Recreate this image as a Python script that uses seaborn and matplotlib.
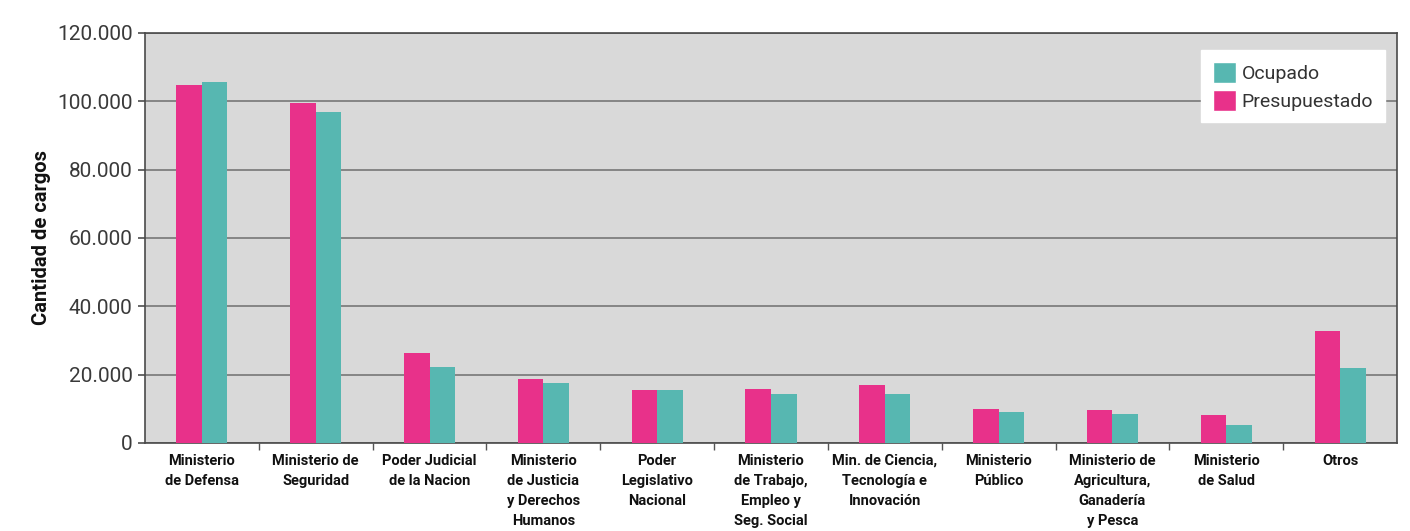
import matplotlib
matplotlib.use("Agg")
import matplotlib.pyplot as plt
import matplotlib.ticker as mticker
from matplotlib.patches import Patch
import pandas as pd
import seaborn as sns

# Data
categorias = [
    "Ministerio\nde Defensa",
    "Ministerio de\nSeguridad",
    "Poder Judicial\nde la Nacion",
    "Ministerio\nde Justicia\ny Derechos\nHumanos",
    "Poder\nLegislativo\nNacional",
    "Ministerio\nde Trabajo,\nEmpleo y\nSeg. Social",
    "Min. de Ciencia,\nTecnología e\nInnovación",
    "Ministerio\nPúblico",
    "Ministerio de\nAgricultura,\nGanadería\ny Pesca",
    "Ministerio\nde Salud",
    "Otros",
]
presupuestado = [104800, 99500, 26300, 18700, 15500, 15800, 17000, 10000, 9700, 8200, 32800]
ocupado = [105500, 96900, 22200, 17600, 15500, 14300, 14300, 9100, 8500, 5300, 22000]

series = ["Presupuestado", "Ocupado"]
colores = {"Presupuestado": "#E8318A", "Ocupado": "#57B7B1"}

df = pd.DataFrame({
    "categoria": categorias * 2,
    "serie": ["Presupuestado"] * len(categorias) + ["Ocupado"] * len(categorias),
    "valor": presupuestado + ocupado,
})

sns.set_theme(style="white")
plt.rcParams["font.family"] = ["Roboto", "DejaVu Sans"]

fig, ax = plt.subplots(figsize=(14.1, 5.31), dpi=100)
fig.subplots_adjust(left=0.1028, right=0.9908, top=0.938, bottom=0.166)

sns.barplot(data=df, x="categoria", y="valor", hue="serie", hue_order=series,
            palette=colores, order=categorias, width=0.45, saturation=1,
            linewidth=0, ax=ax, legend=False, zorder=3)

ax.set_facecolor("#D9D9D9")
ax.set_ylim(0, 120000)
ax.set_xlim(-0.5, len(categorias) - 0.5)
ax.yaxis.set_major_locator(mticker.MultipleLocator(20000))
ax.yaxis.set_major_formatter(mticker.FuncFormatter(lambda v, p: f"{int(v):,}".replace(",", ".")))
ax.grid(axis="y", color="#6E6E6E", linewidth=1.1, zorder=1)
ax.set_axisbelow(True)

for s in ax.spines.values():
    s.set_color("#4A4A4A")
    s.set_linewidth(1.2)

ax.tick_params(axis="y", labelsize=15, labelcolor="#3A3A3A", left=True,
               length=5, color="#555555", pad=4)
ax.set_xticks(range(len(categorias)))
ax.set_xticklabels(categorias, fontsize=10.5, fontweight="bold",
                   color="#111111", linespacing=1.55, va="top")
ax.tick_params(axis="x", length=0, pad=8)
ax.set_xticks([i + 0.5 for i in range(len(categorias) - 1)], minor=True)
ax.tick_params(axis="x", which="minor", bottom=True, length=5, color="#555555")

ax.set_xlabel("")
ax.set_ylabel("Cantidad de cargos", fontsize=14.5, fontweight="bold",
              color="#111111", labelpad=4)

handles = [Patch(facecolor=colores["Ocupado"]), Patch(facecolor=colores["Presupuestado"])]
leg = ax.legend(handles, ["Ocupado", "Presupuestado"], loc="upper right",
                bbox_to_anchor=(0.9904, 0.9585), borderaxespad=0,
                frameon=True, fancybox=False, framealpha=1,
                fontsize=14, handlelength=1.2, handleheight=1.3,
                handletextpad=0.3, labelspacing=0.35, borderpad=0.6)
leg.get_frame().set_facecolor("white")
leg.get_frame().set_edgecolor("white")
for t in leg.get_texts():
    t.set_color("#333333")

fig.savefig("out.png", dpi=100)
